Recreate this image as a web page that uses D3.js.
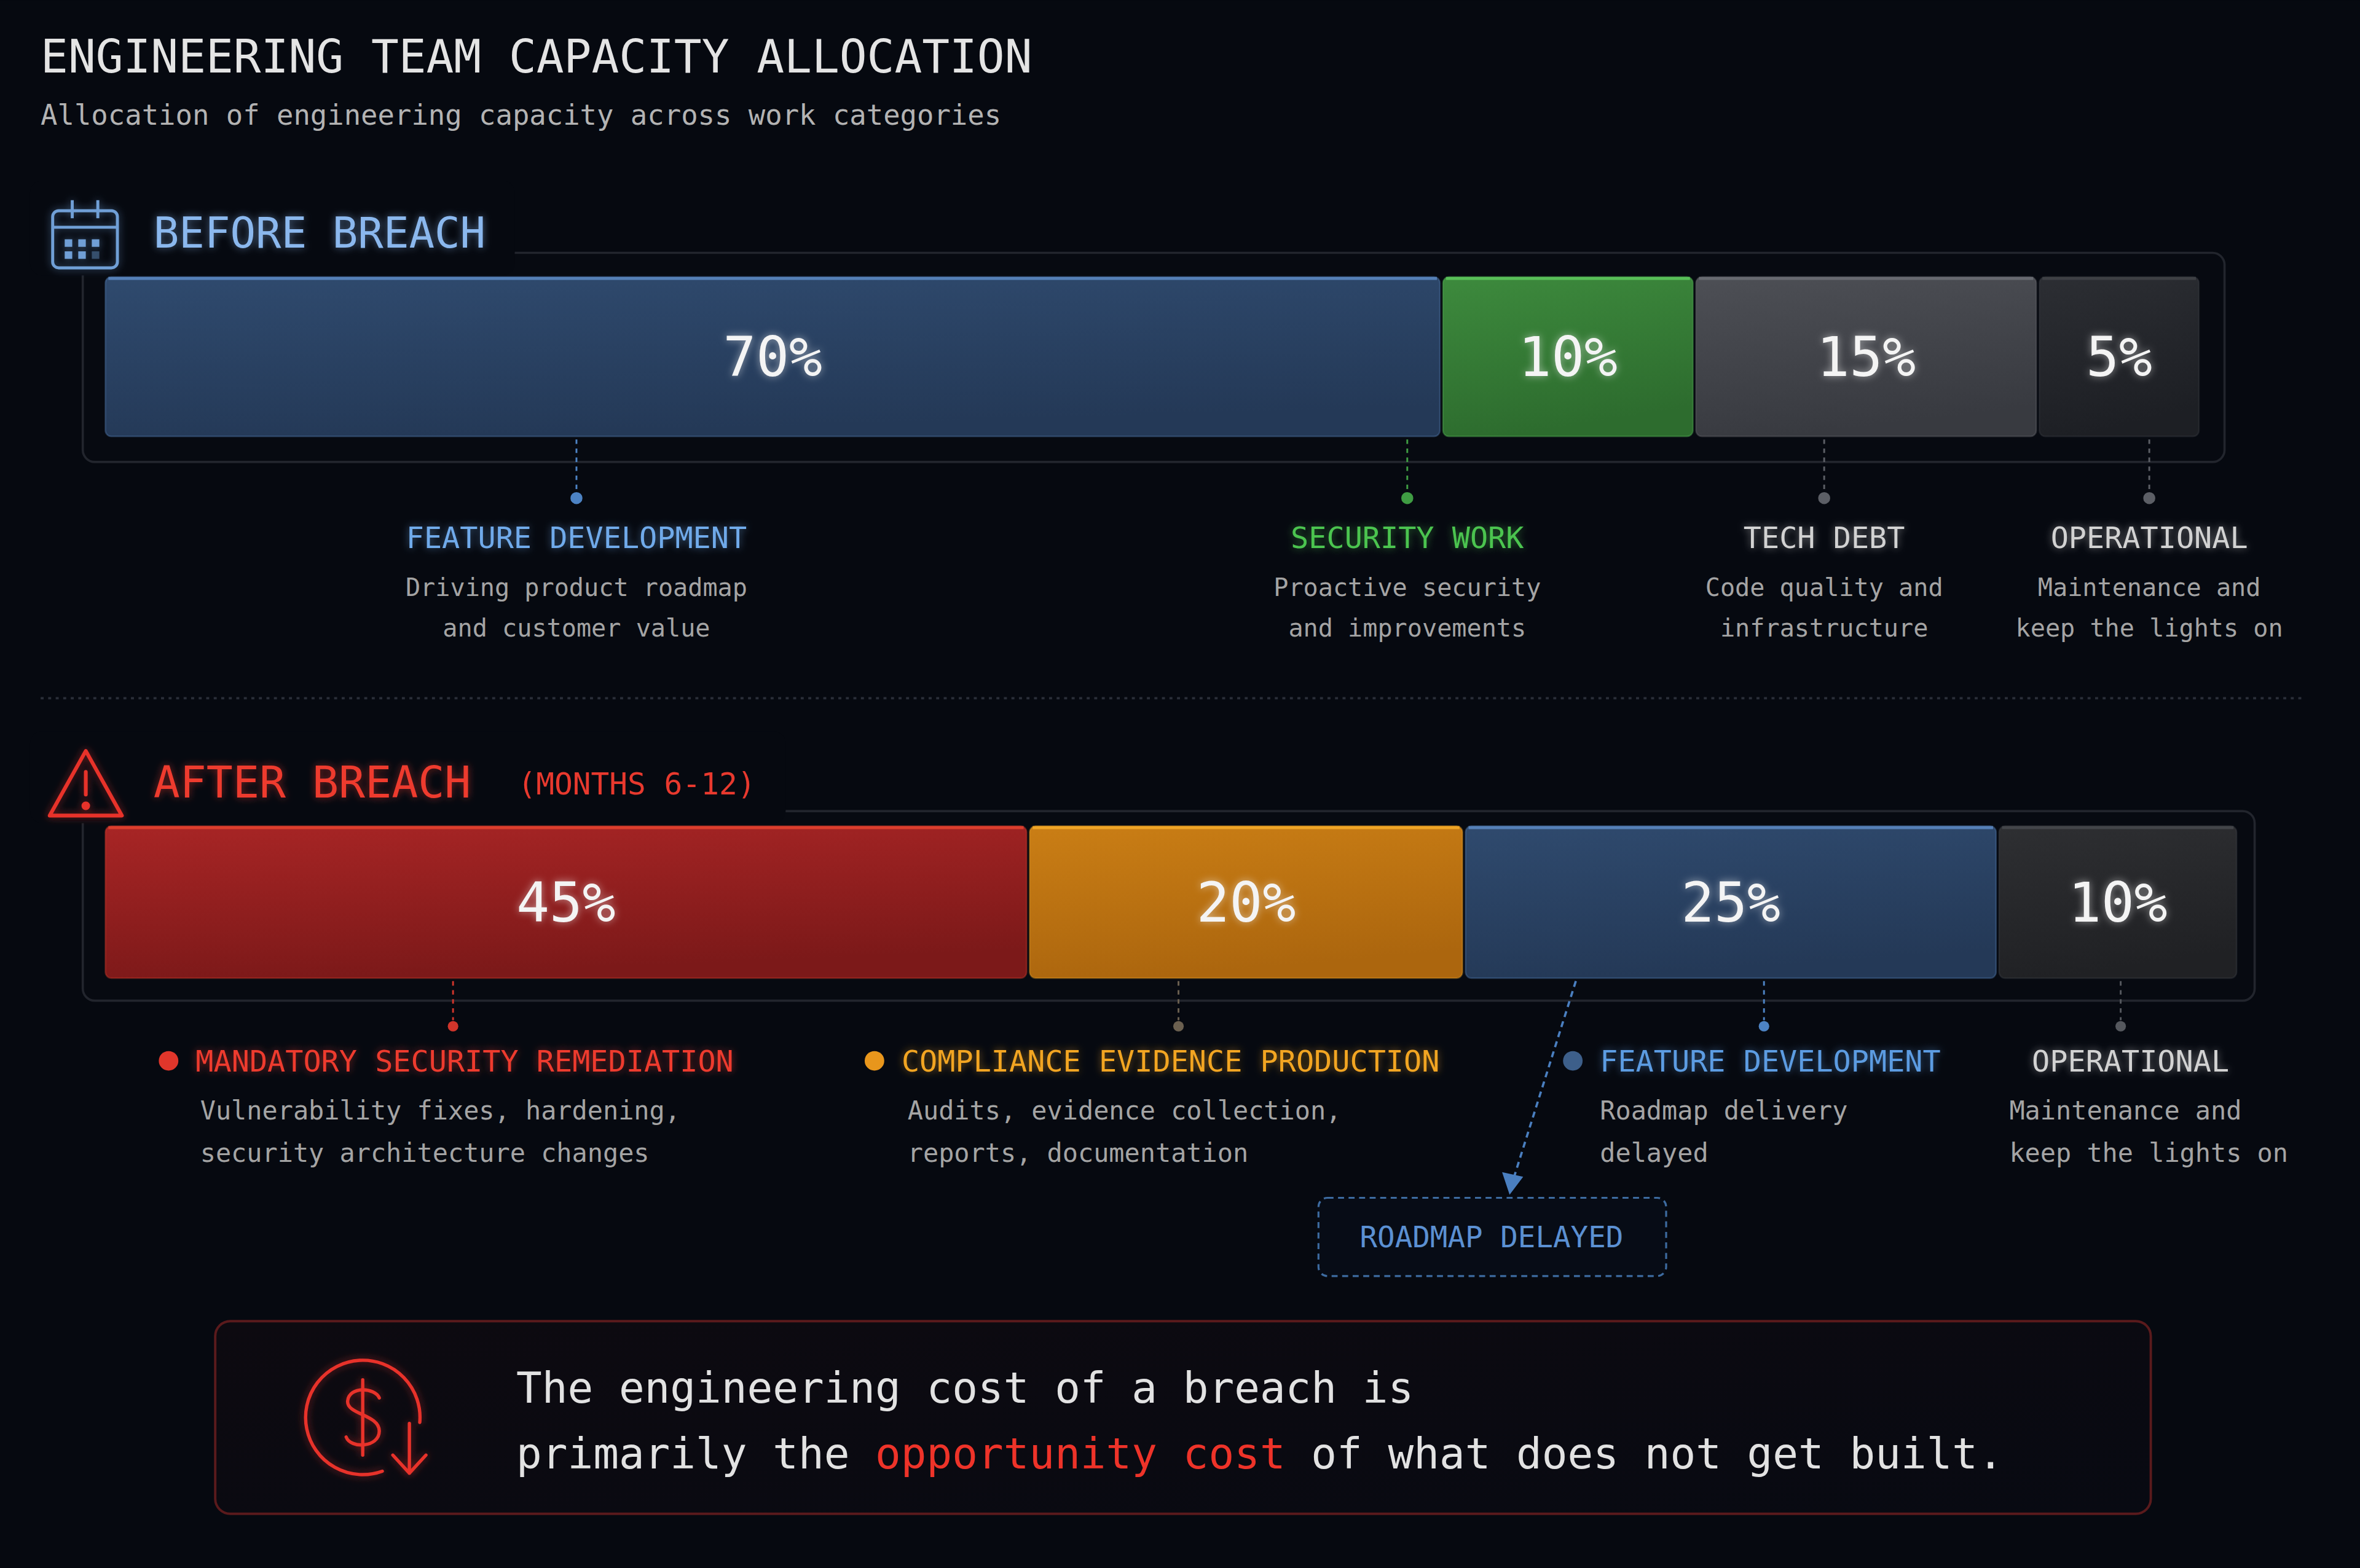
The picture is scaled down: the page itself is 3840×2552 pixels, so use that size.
<!DOCTYPE html>
<html>
<head>
<meta charset="utf-8">
<script src="https://cdn.jsdelivr.net/npm/d3@7"></script>
<style>
  html, body { margin: 0; padding: 0; background: #060910; }
  svg { display: block; }
</style>
</head>
<body>
<div id="chart"></div>
<script>
// ---- data ----
var beforeCategories = ["FEATURE DEVELOPMENT", "SECURITY WORK", "TECH DEBT", "OPERATIONAL"];
var beforeValues = [70, 10, 15, 5];
var beforeDescriptions = [
    ["Driving product roadmap", "and customer value"],
    ["Proactive security", "and improvements"],
    ["Code quality and", "infrastructure"],
    ["Maintenance and", "keep the lights on"]
];
var afterCategories = ["MANDATORY SECURITY REMEDIATION", "COMPLIANCE EVIDENCE PRODUCTION", "FEATURE DEVELOPMENT", "OPERATIONAL"];
var afterValues = [45, 20, 25, 10];
var afterDescriptions = [
    ["Vulnerability fixes, hardening,", "security architecture changes"],
    ["Audits, evidence collection,", "reports, documentation"],
    ["Roadmap delivery", "delayed"],
    ["Maintenance and", "keep the lights on"]
];

// ---- styles ----
var beforeFills = [["#2f4a6e", "#243957", "#5a86c0"], ["#3d8a3d", "#2d6c2e", "#5cc75c"], ["#4d4f55", "#383a40", "#6c6e74"], ["#2c2e33", "#1d1f24", "#404247"]];
var afterFills = [["#a82525", "#7c1919", "#e2412f"], ["#ca7e15", "#ac660e", "#f4aa28"], ["#2f4a6e", "#243957", "#5a86c0"], ["#2e2f32", "#202124", "#46484c"]];
var beforeTitleColors = ["#70aaea", "#4cc44f", "#d2d2d2", "#d2d2d2"];
var beforeLinkColors = ["#4d83c4", "#3f9c43", "#5c5f66", "#5c5f66"];
var afterTitleColors = ["#ee3b2f", "#f2a520", "#5c9ce2", "#d2d2d2"];
var afterLinkColors = ["#d0352b", "#6b6050", "#4d83c4", "#55585e"];
var afterBulletColors = ["#e0362b", "#e8961c", "#3d5f8a", null];

// annotation layout (label columns)
var beforeLabelX = [383, 935, 1212, 1428];
var afterLinkX = [301, 783, 1172, 1409];
var afterTitleX = [130, 599, 1063, 1350];
var afterDescX = [133, 603, 1063, 1335];

var W = 1568, H = 1042;
var mono = "'DejaVu Sans Mono', 'Liberation Mono', monospace";
var bg = "#060910";

var svg = d3.select("#chart")
    .append("svg")
    .attr("width", 3840)
    .attr("height", 2552)
    .attr("viewBox", "0 0 " + W + " " + H);

var defs = svg.append("defs");

var glow = defs.append("filter").attr("id", "glow")
    .attr("x", "-20%").attr("y", "-50%").attr("width", "140%").attr("height", "200%");
glow.append("feGaussianBlur").attr("in", "SourceGraphic").attr("stdDeviation", 2.5).attr("result", "b");
glow.append("feComponentTransfer").attr("in", "b").attr("result", "b2")
    .append("feFuncA").attr("type", "linear").attr("slope", 0.55);
var gm = glow.append("feMerge");
gm.append("feMergeNode").attr("in", "b2");
gm.append("feMergeNode").attr("in", "SourceGraphic");

function addGradient(id, c) {
    var g = defs.append("linearGradient").attr("id", id)
        .attr("x1", 0).attr("y1", 0).attr("x2", 0.25).attr("y2", 1);
    g.append("stop").attr("offset", "0%").attr("stop-color", c[0]);
    g.append("stop").attr("offset", "100%").attr("stop-color", c[1]);
}
beforeFills.forEach(function(c, i) { addGradient("gb" + i, c); });
afterFills.forEach(function(c, i) { addGradient("ga" + i, c); });

var boxGrad = defs.append("linearGradient").attr("id", "boxg").attr("x1", 0).attr("y1", 0).attr("x2", 1).attr("y2", 1);
boxGrad.append("stop").attr("offset", "0%").attr("stop-color", "#0d0a10");
boxGrad.append("stop").attr("offset", "100%").attr("stop-color", "#080a12");

svg.append("rect").attr("width", W).attr("height", H).attr("fill", bg);

// title
svg.append("text").attr("x", 27).attr("y", 48)
    .attr("font-family", mono).attr("font-size", 30.4).attr("fill", "#e4e4e4")
    .text("ENGINEERING TEAM CAPACITY ALLOCATION");
svg.append("text").attr("x", 27).attr("y", 83)
    .attr("font-family", mono).attr("font-size", 18.6).attr("fill", "#b3b3b3")
    .text("Allocation of engineering capacity across work categories");

// segments: small base width plus linear share
function layout(values, x0, x1, minW) {
    var total = d3.sum(values);
    var share = d3.scaleLinear().domain([0, total]).range([0, (x1 - x0) - values.length * minW]);
    var x = x0;
    return values.map(function(v) {
        var w = minW + share(v);
        var s = { x: x, w: w, v: v };
        x += w;
        return s;
    });
}

function drawBar(segs, y, h, prefix, fills) {
    var g = svg.append("g");
    var seg = g.selectAll("g.seg").data(segs).enter().append("g").attr("class", "seg");
    seg.append("rect")
        .attr("x", function(d) { return d.x + 1; })
        .attr("y", y)
        .attr("width", function(d) { return d.w - 2; })
        .attr("height", h)
        .attr("rx", 4)
        .attr("fill", function(d, i) { return "url(#" + prefix + i + ")"; })
        .attr("stroke", function(d, i) { return fills[i][2]; })
        .attr("stroke-opacity", 0.35)
        .attr("stroke-width", 1);
    seg.append("rect")
        .attr("x", function(d) { return d.x + 3; })
        .attr("y", y)
        .attr("width", function(d) { return d.w - 6; })
        .attr("height", 2)
        .attr("fill", function(d, i) { return fills[i][2]; })
        .attr("opacity", 0.9);
    seg.append("text")
        .attr("x", function(d) { return d.x + d.w / 2; })
        .attr("y", y + h / 2 + 13)
        .attr("text-anchor", "middle")
        .attr("font-family", mono)
        .attr("font-size", 36.5)
        .attr("fill", "#f4f4f4")
        .attr("filter", "url(#glow)")
        .text(function(d) { return d.v + "%"; });
}

// ---------- BEFORE ----------
svg.append("rect").attr("x", 55).attr("y", 168).attr("width", 1423).attr("height", 139)
    .attr("rx", 8).attr("fill", "#070a11").attr("stroke", "#22252d").attr("stroke-width", 1.5);
svg.append("rect").attr("x", 20).attr("y", 120).attr("width", 322).attr("height", 63)
    .attr("rx", 8).attr("fill", bg);

var cal = svg.append("g").attr("stroke", "#6f9fd6").attr("fill", "none").attr("stroke-width", 2)
    .attr("filter", "url(#glow)");
cal.append("rect").attr("x", 35).attr("y", 140).attr("width", 43).attr("height", 38).attr("rx", 4);
cal.append("line").attr("x1", 35).attr("x2", 78).attr("y1", 151).attr("y2", 151);
cal.append("line").attr("x1", 48).attr("x2", 48).attr("y1", 133).attr("y2", 145);
cal.append("line").attr("x1", 65).attr("x2", 65).attr("y1", 133).attr("y2", 145);
[[43, 159, 1], [52, 159, 1], [61, 159, 1], [43, 167, 1], [52, 167, 1], [61, 167, 0.4]].forEach(function(p) {
    cal.append("rect").attr("x", p[0]).attr("y", p[1]).attr("width", 5).attr("height", 5)
        .attr("fill", "#6f9fd6").attr("stroke", "none").attr("opacity", p[2]);
});

svg.append("text").attr("x", 102).attr("y", 164.5)
    .attr("font-family", mono).attr("font-size", 28.2).attr("fill", "#8bb8ee")
    .attr("filter", "url(#glow)")
    .text("BEFORE BREACH");

var beforeSegs = layout(beforeValues, 69, 1462, 48);
drawBar(beforeSegs, 184, 106, "gb", beforeFills);

var bl = svg.append("g").selectAll("g").data(beforeCategories).enter().append("g");
bl.append("line")
    .attr("x1", function(d, i) { return beforeLabelX[i]; })
    .attr("x2", function(d, i) { return beforeLabelX[i]; })
    .attr("y1", 292).attr("y2", 326)
    .attr("stroke", function(d, i) { return beforeLinkColors[i]; })
    .attr("stroke-width", 1.2).attr("stroke-dasharray", "3,3");
bl.append("circle")
    .attr("cx", function(d, i) { return beforeLabelX[i]; })
    .attr("cy", 331).attr("r", 4)
    .attr("fill", function(d, i) { return beforeLinkColors[i]; });
bl.append("text")
    .attr("x", function(d, i) { return beforeLabelX[i]; })
    .attr("y", 364)
    .attr("text-anchor", "middle")
    .attr("font-family", mono).attr("font-size", 19.8)
    .attr("fill", function(d, i) { return beforeTitleColors[i]; })
    .attr("filter", "url(#glow)")
    .text(function(d) { return d; });
bl.each(function(d, i) {
    d3.select(this).selectAll("text.desc").data(beforeDescriptions[i]).enter().append("text")
        .attr("class", "desc")
        .attr("x", beforeLabelX[i])
        .attr("y", function(t, j) { return 396 + j * 27; })
        .attr("text-anchor", "middle")
        .attr("font-family", mono).attr("font-size", 16.4)
        .attr("fill", "#a4a4a4")
        .text(function(t) { return t; });
});

// separator
svg.append("line").attr("x1", 27).attr("x2", 1530).attr("y1", 464).attr("y2", 464)
    .attr("stroke", "#2a2e38").attr("stroke-width", 1.5).attr("stroke-dasharray", "2,3");

// ---------- AFTER ----------
svg.append("rect").attr("x", 55).attr("y", 539).attr("width", 1443).attr("height", 126)
    .attr("rx", 8).attr("fill", "#070a11").attr("stroke", "#22252d").attr("stroke-width", 1.5);
svg.append("rect").attr("x", 20).attr("y", 486).attr("width", 502).attr("height", 61)
    .attr("rx", 8).attr("fill", bg);

var warn = svg.append("g").attr("stroke", "#e8332a").attr("fill", "none").attr("stroke-width", 2.5)
    .attr("stroke-linejoin", "round").attr("stroke-linecap", "round").attr("filter", "url(#glow)");
warn.append("path").attr("d", "M57,499 L81,542 L33,542 Z");
warn.append("line").attr("x1", 57).attr("x2", 57).attr("y1", 513).attr("y2", 528);
warn.append("circle").attr("cx", 57).attr("cy", 535.5).attr("r", 1.6).attr("fill", "#e8332a");

svg.append("text").attr("x", 102).attr("y", 530)
    .attr("font-family", mono).attr("font-size", 29.2).attr("fill", "#ee3b2f")
    .attr("filter", "url(#glow)")
    .text("AFTER BREACH");
svg.append("text").attr("x", 344).attr("y", 528)
    .attr("font-family", mono).attr("font-size", 20.2).attr("fill", "#e8392e")
    .text("(MONTHS 6-12)");

var afterSegs = layout(afterValues, 69, 1487, 30);
drawBar(afterSegs, 549, 101, "ga", afterFills);

var al = svg.append("g").selectAll("g").data(afterCategories).enter().append("g");
al.append("line")
    .attr("x1", function(d, i) { return afterLinkX[i]; })
    .attr("x2", function(d, i) { return afterLinkX[i]; })
    .attr("y1", 652).attr("y2", 678)
    .attr("stroke", function(d, i) { return afterLinkColors[i]; })
    .attr("stroke-width", 1.2).attr("stroke-dasharray", "3,3");
al.append("circle")
    .attr("cx", function(d, i) { return afterLinkX[i]; })
    .attr("cy", 682).attr("r", 3.5)
    .attr("fill", function(d, i) { return afterLinkColors[i]; });
al.filter(function(d, i) { return afterBulletColors[i]; })
    .append("circle")
    .attr("cx", function(d) { return afterTitleX[afterCategories.indexOf(d)] - 18; })
    .attr("cy", 705).attr("r", 6.5)
    .attr("fill", function(d) { return afterBulletColors[afterCategories.indexOf(d)]; });
al.append("text")
    .attr("x", function(d, i) { return afterTitleX[i]; })
    .attr("y", 712)
    .attr("font-family", mono).attr("font-size", 19.8)
    .attr("fill", function(d, i) { return afterTitleColors[i]; })
    .attr("filter", "url(#glow)")
    .text(function(d) { return d; });
al.each(function(d, i) {
    d3.select(this).selectAll("text.desc").data(afterDescriptions[i]).enter().append("text")
        .attr("class", "desc")
        .attr("x", afterDescX[i])
        .attr("y", function(t, j) { return 744 + j * 28; })
        .attr("font-family", mono).attr("font-size", 17.1)
        .attr("fill", "#a4a4a4")
        .text(function(t) { return t; });
});

// roadmap delayed callout
var rd = svg.append("g");
rd.append("line").attr("x1", 1047).attr("y1", 652).attr("x2", 1006).attr("y2", 782)
    .attr("stroke", "#4a7fc0").attr("stroke-width", 1.5).attr("stroke-dasharray", "4,3");
rd.append("path").attr("d", "M998,779 L1003,794 L1012,782 Z").attr("fill", "#4a7fc0");
rd.append("rect").attr("x", 876).attr("y", 796).attr("width", 231).attr("height", 52).attr("rx", 6)
    .attr("fill", "#070c16").attr("stroke", "#3d6ba0").attr("stroke-width", 1.3).attr("stroke-dasharray", "4,3");
rd.append("text").attr("x", 991).attr("y", 829).attr("text-anchor", "middle")
    .attr("font-family", mono).attr("font-size", 19.4).attr("fill", "#5b90d2")
    .text("ROADMAP DELAYED");

// ---------- bottom callout ----------
svg.append("rect").attr("x", 143).attr("y", 878).attr("width", 1286).attr("height", 128).attr("rx", 10)
    .attr("fill", "url(#boxg)").attr("stroke", "#5a1a1c").attr("stroke-width", 1.6);

var ic = svg.append("g").attr("stroke", "#e8332a").attr("fill", "none").attr("stroke-width", 2.2)
    .attr("stroke-linecap", "round").attr("stroke-linejoin", "round").attr("filter", "url(#glow)");
ic.append("path").attr("d", "M254,977.7 A38,38 0 1,1 278.9,945.3");
ic.append("path").attr("d", "M272,946 L272,979 M261,967 L272,979 L283,967");
ic.append("path").attr("d", "M241,917 L241,967");
ic.append("path").attr("d", "M252,929 C249,922 232,921 231,931 C230,940 252,940 252,951 C252,962 233,963 230,955");

var msg = svg.append("g").attr("font-family", mono).attr("font-size", 28.3).attr("fill", "#e2e2e2");
msg.append("text").attr("x", 343).attr("y", 932).text("The engineering cost of a breach is");
var l2 = msg.append("text").attr("x", 343).attr("y", 976);
l2.append("tspan").text("primarily the ");
l2.append("tspan").attr("fill", "#ee3329").text("opportunity cost");
l2.append("tspan").text(" of what does not get built.");
</script>
</body>
</html>
